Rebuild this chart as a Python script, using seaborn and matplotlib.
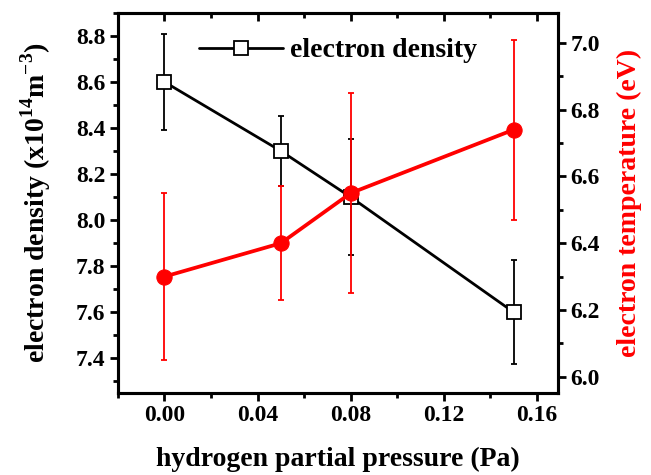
import matplotlib
matplotlib.use("Agg")
import matplotlib.pyplot as plt
import seaborn as sns
import pandas as pd
from matplotlib.ticker import MultipleLocator, FormatStrFormatter
from matplotlib.lines import TICKDOWN

# Measured plasma parameters versus hydrogen partial pressure
pressure = [0.00, 0.05, 0.08, 0.15]
density = [8.60, 8.30, 8.10, 7.60]
density_err = [0.21, 0.15, 0.25, 0.225]
temperature = [6.30, 6.40, 6.55, 6.74]
temperature_err = [0.25, 0.17, 0.30, 0.27]

sns.set_style("ticks")
plt.rcParams["font.family"] = ["Liberation Serif", "DejaVu Serif"]
plt.rcParams["font.weight"] = "bold"
plt.rcParams["mathtext.fontset"] = "custom"
plt.rcParams["mathtext.rm"] = "Liberation Serif:bold"
plt.rcParams["mathtext.bf"] = "Liberation Serif:bold"
for key in ("text.color", "axes.labelcolor", "xtick.color", "ytick.color", "axes.edgecolor"):
    plt.rcParams[key] = "black"

df = pd.DataFrame({"p": pressure, "ne": density, "ne_err": density_err,
                   "te": temperature, "te_err": temperature_err})

fig = plt.figure(figsize=(6.51, 4.75), dpi=100)
ax = fig.add_axes([0.181, 0.173, 0.676, 0.800])

LABEL_FS = 20
TICK_FS = 17

# electron density (left axis)
ax.errorbar(df["p"], df["ne"], yerr=df["ne_err"], fmt="none", ecolor="black",
            elinewidth=1.3, capsize=2.5, capthick=1.3, zorder=2)
sns.lineplot(data=df, x="p", y="ne", ax=ax, color="black", linewidth=2.0,
             marker="s", markersize=10.5, markerfacecolor="white",
             markeredgecolor="black", markeredgewidth=1.3,
             label="electron density", zorder=3)

ax.set_xlim(-0.02, 0.169)
ax.set_ylim(7.25, 8.9)
ax.xaxis.set_major_locator(MultipleLocator(0.04))
ax.xaxis.set_minor_locator(MultipleLocator(0.02))
ax.yaxis.set_major_locator(MultipleLocator(0.2))
ax.yaxis.set_minor_locator(MultipleLocator(0.1))
ax.xaxis.set_major_formatter(FormatStrFormatter("%.2f"))
ax.yaxis.set_major_formatter(FormatStrFormatter("%.1f"))

ax.set_xlabel("hydrogen partial pressure (Pa)", fontsize=LABEL_FS, fontweight="bold", labelpad=15)
ax.set_ylabel("electron density (x10$^{14}$m$^{-3}$)", fontsize=LABEL_FS, fontweight="bold", labelpad=16)

ax.legend(loc="upper center", bbox_to_anchor=(0.5, 1.0), frameon=False,
          handlelength=3.0, handletextpad=0.25,
          prop={"family": "Liberation Serif", "weight": "bold", "size": LABEL_FS})

# electron temperature (right axis)
ax2 = ax.twinx()
ax2.errorbar(df["p"], df["te"], yerr=df["te_err"], fmt="none", ecolor="red",
             elinewidth=1.3, capsize=2.5, capthick=1.3, zorder=2)
sns.lineplot(data=df, x="p", y="te", ax=ax2, color="red", linewidth=2.7,
             marker="o", markersize=11, markerfacecolor="red",
             markeredgecolor="red", legend=False, zorder=3)
ax2.set_ylim(5.952, 7.09)
ax2.yaxis.set_major_locator(MultipleLocator(0.2))
ax2.yaxis.set_minor_locator(MultipleLocator(0.1))
ax2.yaxis.set_major_formatter(FormatStrFormatter("%.1f"))
ax2.set_ylabel("electron temperature (eV)", fontsize=LABEL_FS, fontweight="bold",
               color="red", labelpad=12)
ax2.set_xlabel("")

for a in (ax, ax2):
    for s in a.spines.values():
        s.set_linewidth(2.2)
        s.set_color("black")

ax.tick_params(axis="both", which="major", labelsize=TICK_FS, width=2, length=6, direction="out", pad=3, colors="black")
ax.tick_params(axis="both", which="minor", width=2, length=3.5, direction="out", colors="black")
ax.tick_params(axis="x", which="both", top=True)
ax2.tick_params(axis="y", which="major", labelsize=TICK_FS, width=2, length=6, direction="out", pad=3, colors="black")
ax2.tick_params(axis="y", which="minor", width=2, length=3.5, direction="out", colors="black")

# top ticks point inward
for t in ax.xaxis.get_major_ticks() + ax.xaxis.get_minor_ticks():
    t.tick2line.set_marker(TICKDOWN)

for lbl in ax.get_xticklabels() + ax.get_yticklabels() + ax2.get_yticklabels():
    lbl.set_fontweight("bold")

fig.savefig("out.png", dpi=100)
